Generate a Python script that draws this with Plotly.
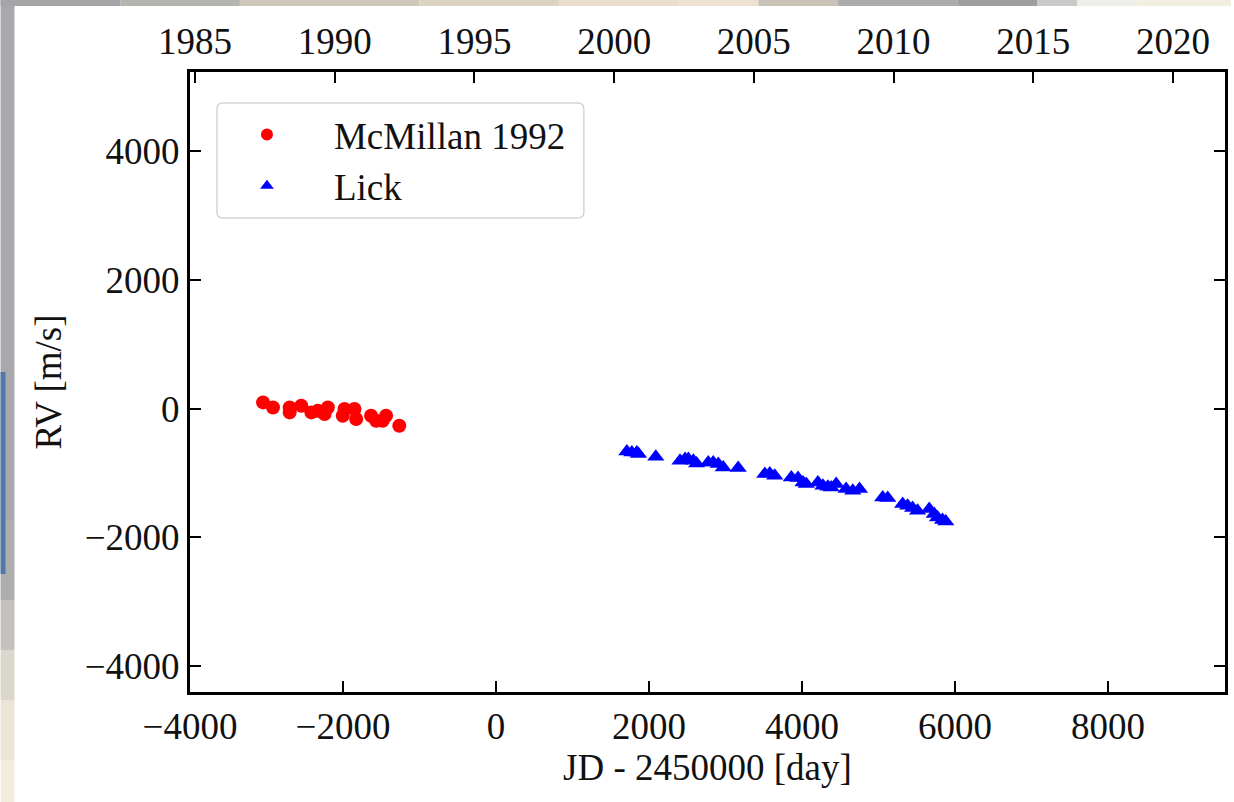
import plotly.graph_objects as go

# Radial velocity measurements (JD - 2450000, m/s)
mcmillan_jd = [-3045, -2915, -2697, -2697, -2545, -2414, -2328, -2198, -2241,
               -1980, -2003, -1850, -1828, -1633, -1567, -1437, -1481, -1264]
mcmillan_rv = [98, 20, 20, -57, 47, -57, -31, 20, -82,
               -5, -109, -5, -160, -109, -186, -109, -186, -264]

lick_jd = [1711, 1776, 1841, 1863, 2089, 2406, 2472, 2515, 2580, 2623,
           2775, 2840, 2906, 2971, 3166, 3514, 3579, 3644, 3861, 3948,
           4013, 4056, 4208, 4274, 4339, 4382, 4447, 4577, 4664, 4752,
           5055, 5121, 5316, 5381, 5446, 5511, 5664, 5729, 5772, 5837, 5880]
lick_rv = [-663, -679, -679, -704, -745, -808, -781, -781, -808, -850,
           -834, -834, -859, -912, -921, -1014, -1005, -1041, -1068, -1077,
           -1145, -1170, -1145, -1196, -1212, -1223, -1170, -1248, -1274, -1248,
           -1378, -1387, -1481, -1507, -1543, -1584, -1558, -1636, -1689, -1729, -1751]

x_ticks = [-4000, -2000, 0, 2000, 4000, 6000, 8000]
y_ticks = [-4000, -2000, 0, 2000, 4000]
year_ticks = [1985, 1990, 1995, 2000, 2005, 2010, 2015, 2020]

x_range = [-4000, 9530]
y_range = [-4400, 5230]


def jd_to_year(jd):
    # JD 2451544.5 is 2000-01-01
    return 2000.0 + (jd - 1544.5) / 365.25


FONT = "Liberation Serif"
FS = 37
W, H = 1234, 802
ML, MR, MT, MB = 190, 6, 72, 110

fig = go.Figure()
fig.add_trace(go.Scatter(
    x=mcmillan_jd, y=mcmillan_rv, mode="markers", name="McMillan 1992",
    marker=dict(symbol="circle", size=14, color="#ff0000", line=dict(width=0)),
))
fig.add_trace(go.Scatter(
    x=lick_jd, y=lick_rv, mode="markers", name="Lick",
    marker=dict(symbol="triangle-up", size=15, color="#0000ff", line=dict(width=0)),
))

axis_common = dict(
    showgrid=False, zeroline=False, showline=True, linecolor="black", linewidth=3,
    ticks="inside", ticklen=11, tickwidth=2, tickcolor="black",
    tickfont=dict(family=FONT, size=FS, color="#111111"),
)

fig.update_layout(
    width=W, height=H,
    margin=dict(l=ML, r=MR, t=MT, b=MB),
    paper_bgcolor="white", plot_bgcolor="white",
    font=dict(family=FONT, size=FS, color="#111111"),
    xaxis=dict(
        range=x_range, tickvals=x_ticks, mirror=False,
        title=dict(text="JD - 2450000 [day]", font=dict(family=FONT, size=FS), standoff=6),
        **axis_common,
    ),
    xaxis2=dict(
        range=[jd_to_year(x_range[0]), jd_to_year(x_range[1])],
        tickvals=year_ticks, overlaying="x", side="top", anchor="y",
        **axis_common,
    ),
    yaxis=dict(
        range=y_range, tickvals=y_ticks, mirror="ticks",
        title=dict(text="RV [m/s]", font=dict(family=FONT, size=FS), standoff=12),
        **axis_common,
    ),
    legend=dict(
        x=(200 - ML) / (W - ML - MR), y=1 - (104 - MT) / (H - MT - MB),
        xanchor="left", yanchor="top",
        bgcolor="rgba(0,0,0,0)", borderwidth=0,
        font=dict(family=FONT, size=FS, color="#111111"),
        itemwidth=124, itemsizing="constant",
    ),
    showlegend=True,
)

# Empty trace so the top (year) axis is rendered
fig.add_trace(go.Scatter(x=[], y=[], xaxis="x2", yaxis="y", showlegend=False))


# Pixel coords -> paper coords
def px_x(p):
    return (p - ML) / (W - ML - MR)


def px_y(p):
    return 1 - (p - MT) / (H - MT - MB)


# Rounded legend frame
def rounded_rect(x0, y0, x1, y1, r):
    X0, X1 = px_x(x0), px_x(x1)
    Y0, Y1 = px_y(y0), px_y(y1)
    rx = r / (W - ML - MR)
    ry = r / (H - MT - MB)
    return (f"M {X0 + rx},{Y0} L {X1 - rx},{Y0} Q {X1},{Y0} {X1},{Y0 - ry} "
            f"L {X1},{Y1 + ry} Q {X1},{Y1} {X1 - rx},{Y1} L {X0 + rx},{Y1} "
            f"Q {X0},{Y1} {X0},{Y1 + ry} L {X0},{Y0 - ry} Q {X0},{Y0} {X0 + rx},{Y0} Z")


fig.add_shape(type="path", xref="paper", yref="paper",
              path=rounded_rect(217, 103, 585, 218, 6),
              fillcolor="white", line=dict(color="#d4d4d4", width=1.5), layer="above")


# Slide background strips around the figure
def band(x0, y0, x1, y1, color):
    fig.add_shape(type="rect", xref="paper", yref="paper",
                  x0=px_x(x0), x1=px_x(x1), y0=px_y(y1), y1=px_y(y0),
                  fillcolor=color, line=dict(width=0), layer="below")


left_stops = [(0, "#a9a9ad"), (520, "#aeaeb0"), (600, "#c4c2bd"), (650, "#dcd7cc"),
              (700, "#ebe5d7"), (760, "#f2ecdf"), (802, "#f4efe3")]
for (y0, c), (y1, _) in zip(left_stops[:-1], left_stops[1:]):
    band(0, y0, 14, y1, c)
band(0, 372, 5, 574, "#5277aa")

top_stops = [(0, "#a6a6a8"), (120, "#b6b4b0"), (240, "#cdc6ba"), (420, "#dcd3c2"),
             (560, "#e9dfcc"), (680, "#ede2cf"), (760, "#c9c2b7"), (840, "#ababab"),
             (960, "#9f9f9f"), (1040, "#c9c9c7"), (1080, "#eeeeea"), (1140, "#f2eee2"),
             (1234, "#f4efe2")]
for (x0, c), (x1, _) in zip(top_stops[:-1], top_stops[1:]):
    band(x0, 0, x1, 6, c)

fig.write_html("out.html")
